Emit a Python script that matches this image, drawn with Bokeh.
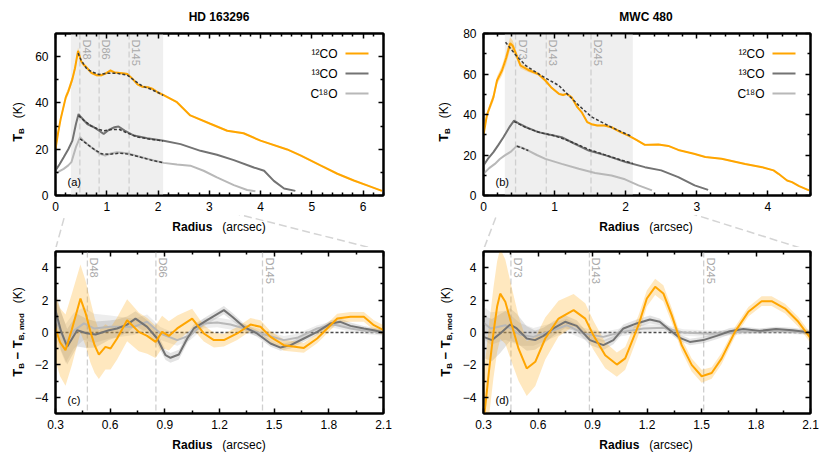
import math
from bokeh.plotting import figure
from bokeh.layouts import row, column
from bokeh.models import Range1d, LinearAxis, FixedTicker, BoxAnnotation, Span, Label, Arrow, Div
from bokeh.embed import file_html
from bokeh.resources import INLINE

# ---------------- data: HD 163296 radial profiles (panel a) ----------------
a_x12 = [0.0, 0.05, 0.1, 0.2, 0.25, 0.33, 0.38, 0.44, 0.5, 0.55, 0.6, 0.7, 0.8, 0.9, 1.0, 1.07, 1.15, 1.3, 1.4, 1.5,
         1.6, 1.7, 1.8, 1.9, 2.0, 2.1, 2.37, 2.63, 3.02, 3.35, 3.67, 4.0, 4.52, 4.78, 5.17, 5.5, 5.82, 6.08, 6.37]
a_y12 = [20.0, 27.0, 33.0, 42.4, 45.0, 50.4, 55.0, 62.5, 58.0, 56.5, 55.5, 53.0, 52.0, 52.0, 53.0, 54.0, 53.2, 52.8, 52.5, 50.5,
         48.0, 47.0, 46.8, 46.0, 44.5, 43.5, 40.3, 34.6, 31.0, 28.0, 26.9, 23.7, 19.9, 17.3, 13.0, 9.4, 6.5, 4.4, 2.0]
a_e12 = [1.5, 1.5, 1.5, 1.5, 1.5, 1.5, 1.5, 1.5, 1.0, 0.8, 0.7, 0.6, 0.6, 0.6, 0.6, 0.6, 0.5, 0.5, 0.5, 0.5,
         0.5, 0.5, 0.5, 0.5, 0.5, 0.5, 0.4, 0.4, 0.4, 0.4, 0.4, 0.4, 0.4, 0.4, 0.4, 0.4, 0.4, 0.4, 0.4]
a_x13 = [0.0, 0.08, 0.16, 0.25, 0.33, 0.4, 0.45, 0.5, 0.62, 0.75, 0.85, 0.94, 1.05, 1.15, 1.23, 1.35, 1.53, 1.79, 2.11, 2.44,
         2.83, 3.15, 3.48, 3.87, 4.07, 4.26, 4.46, 4.68]
a_y13 = [10.8, 13.5, 16.5, 20.0, 23.7, 31.0, 35.2, 33.8, 30.9, 29.5, 28.0, 26.6, 28.5, 29.5, 29.8, 28.0, 25.9, 24.7, 23.7, 22.2,
         19.3, 17.6, 15.3, 12.1, 10.7, 6.3, 3.0, 2.0]
a_x18 = [0.0, 0.08, 0.16, 0.25, 0.31, 0.4, 0.48, 0.55, 0.65, 0.75, 0.87, 0.97, 1.1, 1.2, 1.4, 1.66, 1.92, 2.11, 2.37, 2.63,
         2.89, 3.15, 3.48, 3.74, 3.9]
a_y18 = [9.4, 10.5, 11.5, 13.0, 14.4, 21.0, 25.2, 23.5, 21.6, 20.0, 18.0, 17.3, 18.3, 18.7, 18.3, 16.6, 15.1, 14.1, 13.4, 12.9,
         10.7, 7.8, 4.5, 2.4, 1.8]
a_mx12 = [0.44, 0.5, 0.6, 0.7, 0.85, 1.0, 1.2, 1.4, 1.55, 1.7, 1.85, 2.0, 2.1]
a_my12 = [61.5, 58.5, 55.0, 53.5, 52.3, 52.8, 52.8, 52.0, 49.5, 47.2, 46.0, 44.5, 43.3]
a_mx13 = [0.45, 0.55, 0.7, 0.85, 0.95, 1.1, 1.25, 1.4, 1.6, 1.8, 2.1]
a_my13 = [34.5, 32.5, 30.0, 28.5, 28.0, 28.5, 28.5, 27.0, 25.3, 24.5, 23.6]
a_mx18 = [0.48, 0.6, 0.75, 0.9, 1.05, 1.25, 1.45, 1.7, 1.9, 2.1]
a_my18 = [24.5, 22.5, 20.0, 18.0, 17.8, 18.3, 17.8, 16.3, 15.1, 14.2]

# ---------------- data: MWC 480 radial profiles (panel b) ----------------
b_x12 = [0.0, 0.05, 0.14, 0.19, 0.26, 0.32, 0.375, 0.41, 0.45, 0.52, 0.63, 0.77, 0.87, 0.95, 1.06, 1.12, 1.17, 1.24, 1.32, 1.38,
         1.46, 1.52, 1.6, 1.7, 1.8, 1.93, 2.04, 2.15, 2.27, 2.46, 2.6, 2.74, 2.96, 3.12, 3.35, 3.68, 3.92, 4.08, 4.15, 4.27,
         4.34, 4.44, 4.58]
b_y12 = [30.0, 40.0, 48.6, 56.8, 61.7, 68.0, 75.2, 74.0, 70.5, 64.2, 62.0, 60.0, 56.8, 53.5, 50.2, 49.6, 50.2, 48.5, 43.6, 41.2,
         36.2, 35.2, 34.6, 34.6, 33.7, 31.3, 29.6, 27.5, 25.0, 25.2, 24.5, 22.5, 20.6, 19.0, 18.1, 15.6, 14.0, 12.4, 10.7, 7.4,
         6.6, 4.6, 2.5]
b_e12 = [1.5, 1.5, 2.0, 2.0, 2.5, 3.0, 3.0, 2.5, 2.0, 1.5, 1.0, 0.8, 0.7, 0.6, 0.6, 0.6, 0.6, 0.6, 0.6, 0.5,
         0.5, 0.5, 0.5, 0.5, 0.5, 0.5, 0.5, 0.5, 0.5, 0.5, 0.4, 0.4, 0.4, 0.4, 0.4, 0.4, 0.4, 0.4, 0.4, 0.4,
         0.4, 0.4, 0.4]
b_x13 = [0.0, 0.07, 0.14, 0.21, 0.28, 0.36, 0.43, 0.5, 0.6, 0.77, 0.92, 1.1, 1.24, 1.48, 1.72, 2.0, 2.27, 2.5, 2.74, 2.97, 3.16]
b_y13 = [14.8, 18.5, 21.4, 25.0, 28.8, 33.5, 37.0, 35.5, 33.7, 31.3, 30.1, 28.8, 26.3, 22.2, 19.8, 16.5, 14.0, 12.4, 9.1, 5.0, 2.8]
b_x18 = [0.0, 0.08, 0.16, 0.23, 0.3, 0.38, 0.47, 0.55, 0.63, 0.75, 0.87, 1.1, 1.34, 1.57, 1.8, 1.99, 2.18, 2.37]
b_y18 = [10.7, 13.5, 15.6, 18.0, 19.8, 21.5, 24.5, 23.5, 22.2, 20.0, 18.1, 15.6, 13.2, 11.1, 9.9, 8.0, 5.0, 2.5]
b_mx12 = [0.31, 0.45, 0.6, 0.8, 1.06, 1.34, 1.52, 1.8, 2.09]
b_my12 = [75.7, 69.5, 64.0, 59.5, 54.3, 44.5, 38.8, 33.7, 29.1]
b_mx13 = [0.43, 0.6, 0.8, 1.0, 1.2, 1.5, 1.8, 2.1]
b_my13 = [36.5, 33.5, 31.0, 29.5, 27.0, 22.5, 19.0, 15.8]
b_mx18 = [0.47, 0.55, 0.63]
b_my18 = [24.3, 23.3, 22.2]

# ---------------- data: HD 163296 residuals (panel c) ----------------
c_x12 = [0.3, 0.325, 0.355, 0.39, 0.437, 0.465, 0.492, 0.515, 0.538, 0.574, 0.602, 0.638, 0.693, 0.757, 0.803, 0.849, 0.885,
         0.922, 0.968, 1.05, 1.114, 1.169, 1.224, 1.297, 1.37, 1.425, 1.48, 1.553, 1.663, 1.736, 1.846, 1.919, 1.992, 2.047, 2.1]
c_y12 = [0.25, -0.6, -1.09, 0.2, 2.1, 1.2, 0.04, -0.8, -1.37, -0.89, -0.99, -0.37, 0.76, 0.04, -0.21, -0.58, 0.04,
         -0.21, 0.25, 0.86, -0.06, -0.47, -0.47, -0.06, 0.49, 0.35, -0.27, -0.78, -0.95, -0.37, 0.86, 0.97, 0.97, 0.45, 0.14]
c_e12 = [2.0, 2.1, 2.2, 2.2, 2.1, 2.0, 1.9, 1.7, 1.5, 1.4, 1.3, 1.3, 1.3, 1.2, 1.1, 1.0, 1.0,
         0.9, 0.8, 0.6, 0.5, 0.45, 0.4, 0.4, 0.4, 0.4, 0.35, 0.35, 0.3, 0.3, 0.3, 0.3, 0.3, 0.3, 0.3]
c_x13 = [0.3, 0.33, 0.364, 0.419, 0.47, 0.52, 0.593, 0.638, 0.693, 0.739, 0.803, 0.858, 0.904, 0.931, 0.977, 1.023, 1.059,
         1.132, 1.224, 1.27, 1.333, 1.406, 1.48, 1.535, 1.59, 1.663, 1.736, 1.81, 1.864, 1.919, 1.992, 2.047, 2.1]
c_y13 = [1.38, 0.1, -0.88, 0.14, -0.05, -0.12, 0.14, 0.25, 0.49, 0.86, 0.35, -0.37, -1.4, -1.56, -1.36, -0.37, 0.25,
         0.76, 1.38, 0.97, 0.35, -0.06, -0.68, -0.93, -0.78, -0.37, 0.04, 0.56, 0.66, 0.41, 0.25, 0.14, 0.0]
c_e13 = [1.2, 1.2, 1.1, 1.0, 0.9, 0.8, 0.6, 0.55, 0.5, 0.45, 0.4, 0.35, 0.3, 0.3, 0.3, 0.3, 0.25,
         0.25, 0.25, 0.25, 0.2, 0.2, 0.2, 0.2, 0.2, 0.2, 0.2, 0.2, 0.2, 0.2, 0.15, 0.15, 0.15]
c_x18 = [0.3, 0.355, 0.4, 0.456, 0.511, 0.602, 0.73, 0.803, 0.876, 0.968, 1.04, 1.114, 1.187, 1.26, 1.37, 1.461, 1.553,
         1.626, 1.736, 1.827, 1.919, 2.0, 2.1]
c_y18 = [0.86, -0.68, 0.1, 0.56, 0.25, 0.35, 0.35, 0.66, -0.06, -0.47, -0.17, 0.56, 0.62, 0.49, 0.14, -0.17, -0.47,
         -0.33, 0.25, 0.49, 0.25, 0.1, 0.0]
c_e18 = [1.2, 1.2, 1.1, 1.0, 0.9, 0.7, 0.5, 0.45, 0.4, 0.35, 0.3, 0.3, 0.3, 0.3, 0.25, 0.25, 0.25,
         0.25, 0.2, 0.2, 0.2, 0.2, 0.2]

# ---------------- data: MWC 480 residuals (panel d) ----------------
d_x12 = [0.3, 0.315, 0.33, 0.355, 0.375, 0.392, 0.42, 0.456, 0.493, 0.538, 0.585, 0.64, 0.713, 0.796, 0.86, 0.905, 0.97,
         1.034, 1.08, 1.153, 1.199, 1.245, 1.29, 1.336, 1.391, 1.446, 1.501, 1.556, 1.611, 1.684, 1.758, 1.831, 1.886,
         1.96, 2.033, 2.1]
d_y12 = [-5.5, -4.0, -2.4, 0.0, 1.6, 2.4, 1.9, 0.45, -1.0, -2.22, -1.81, -0.37, 0.86, 1.38, 0.86, -0.17, -1.4,
         -1.98, -1.6, 0.45, 2.1, 2.82, 2.41, 1.07, -0.78, -2.0, -2.7, -2.5, -1.6, 0.04, 1.28, 1.93, 1.93,
         1.48, 0.66, -0.35]
d_e12 = [2.8, 2.8, 2.8, 2.8, 2.8, 2.8, 2.6, 2.3, 2.0, 1.7, 1.5, 1.3, 1.1, 1.0, 0.95, 0.9, 0.8,
         0.75, 0.7, 0.6, 0.5, 0.5, 0.5, 0.45, 0.4, 0.4, 0.4, 0.35, 0.35, 0.3, 0.3, 0.3, 0.3,
         0.3, 0.3, 0.3]
d_x13 = [0.3, 0.346, 0.392, 0.447, 0.483, 0.538, 0.584, 0.63, 0.685, 0.749, 0.813, 0.886, 0.96, 1.015, 1.07, 1.143, 1.216,
         1.27, 1.326, 1.381, 1.436, 1.51, 1.583, 1.656, 1.73, 1.82, 1.91, 2.0, 2.1]
d_y13 = [-0.27, -0.47, -0.06, 0.49, 0.25, -0.37, -0.47, -0.21, 0.25, 0.66, 0.41, -0.47, -0.78, -0.47, 0.25, 0.56, 0.8,
         0.66, 0.14, -0.33, -0.58, -0.47, -0.21, 0.08, 0.21, 0.1, 0.21, 0.14, 0.0]
d_e13 = [1.3, 1.3, 1.2, 1.0, 0.9, 0.75, 0.6, 0.5, 0.45, 0.4, 0.35, 0.3, 0.3, 0.25, 0.25, 0.25, 0.25,
         0.2, 0.2, 0.2, 0.2, 0.2, 0.2, 0.2, 0.15, 0.15, 0.15, 0.15, 0.15]
d_x18 = [0.3, 0.34, 0.42, 0.5, 0.575, 0.685, 0.758, 0.85, 0.96, 1.05, 1.18, 1.29, 1.4, 1.545, 1.73, 1.91, 2.1]
d_y18 = [0.6, 0.25, 0.45, -0.12, -0.27, 0.14, 0.45, -0.06, -0.27, 0.0, 0.25, 0.29, 0.0, -0.08, 0.04, 0.1, 0.0]
d_e18 = [1.0, 1.0, 0.9, 0.7, 0.55, 0.45, 0.4, 0.35, 0.3, 0.25, 0.25, 0.2, 0.2, 0.2, 0.15, 0.15, 0.15]

# ---------------- texts / ticks ----------------
titles = ["HD 163296", "MWC 480"]
series_names = ["\u00b9\u00b2CO", "\u00b9\u00b3CO", "C\u00b9\u2078O"]
a_gap_names = ["D48", "D86", "D145"]
a_gap_pos = [0.475, 0.851, 1.436]
b_gap_names = ["D73", "D143", "D245"]
b_gap_pos = [0.451, 0.883, 1.512]
zoom_window = [0.3, 2.1]
a_xticks = [0, 1, 2, 3, 4, 5, 6]
a_yticks = [0, 20, 40, 60]
b_xticks = [0, 1, 2, 3, 4]
b_yticks = [0, 20, 40, 60, 80]
r_xticks = [0.3, 0.6, 0.9, 1.2, 1.5, 1.8, 2.1]
r_yticks = [-4, -2, 0, 2, 4]
SUB = '<sub style="font-size:8px;vertical-align:-2px">'
xlabel_html = '<b>Radius</b>&nbsp;&nbsp;&nbsp;(arcsec)'
ylabel_top_html = '<b style="font-size:13px">T' + SUB + 'B</sub></b>&nbsp;&nbsp;&nbsp;(K)'
ylabel_res_html = ('<b style="font-size:13px">T' + SUB + 'B</sub> \u2212 T' + SUB + 'B, mod</sub></b>'
                   '&nbsp;&nbsp;&nbsp;(K)')

FONT = "Liberation Sans"
C12 = "#ffa500"
C13 = "#737373"
C18 = "#b8b8b8"
CMOD = "#3a3a3a"
SHADE = "#efefef"
DLINE = "#cfcfcf"
DTEXT = "#a9a9a9"
CONN = "#d4d4d4"

FH = 162           # frame height (px)
YLAB_W = 30        # width of the y-label strip left of each figure
BORDER_L = 25      # figure left border
TOP_BB = 20        # bottom border of the top figures
GAP_DIV_H = 32     # height of the strip between top and bottom figures
BOT_BT = 4         # top border of the bottom figures


def minor(ticks, n):
    out = []
    for i in range(len(ticks) - 1):
        step = (ticks[i + 1] - ticks[i]) / n
        for k in range(1, n):
            out.append(ticks[i] + k * step)
    return out


def make_panel(width, height, xr, yr, borders, xt, xmn, yt, ymn, overrides=None):
    bl, br, bt, bb = borders
    p = figure(width=width, height=height, x_range=Range1d(*xr), y_range=Range1d(*yr),
               output_backend="svg", toolbar_location=None,
               min_border_left=bl, min_border_right=br, min_border_top=bt, min_border_bottom=bb)
    p.xgrid.visible = False
    p.ygrid.visible = False
    p.outline_line_color = "black"
    p.outline_line_width = 2
    p.background_fill_color = "white"
    p.border_fill_color = "white"
    p.add_layout(LinearAxis(), "above")
    p.add_layout(LinearAxis(), "right")
    for ax in p.xaxis:
        ax.ticker = FixedTicker(ticks=xt, minor_ticks=xmn)
    for ax in p.yaxis:
        ax.ticker = FixedTicker(ticks=yt, minor_ticks=ymn)
    for ax in p.axis:
        ax.axis_line_color = "black"
        ax.axis_line_width = 2
        ax.major_tick_in = 5
        ax.major_tick_out = 0
        ax.minor_tick_in = 3
        ax.minor_tick_out = 0
        ax.major_tick_line_color = "black"
        ax.major_tick_line_width = 1.5
        ax.minor_tick_line_color = "black"
        ax.minor_tick_line_width = 1.5
        ax.major_label_text_font = FONT
        ax.major_label_text_font_size = "12px"
        ax.major_label_text_color = "black"
        ax.axis_label = None
    for ax in p.above + p.right:
        if isinstance(ax, LinearAxis):
            ax.major_label_text_font_size = "1px"
            ax.major_label_text_color = None
            ax.major_label_standoff = 0
    p.below[0].major_label_standoff = 6
    p.left[0].major_label_standoff = 7
    if overrides:
        p.left[0].major_label_overrides = overrides
    return p


def label(p, x, y, text, size="12px", style="normal", color="black", dx=0, dy=0,
          align="center", baseline="middle", angle=0.0):
    p.add_layout(Label(x=x, y=y, x_offset=dx, y_offset=dy, text=text, text_font=FONT,
                       text_font_size=size, text_font_style=style, text_color=color,
                       text_align=align, text_baseline=baseline, angle=angle))


def seg(p, x0, y0, x1, y1, color, width, dash="solid"):
    p.add_layout(Arrow(end=None, x_start=x0, y_start=y0, x_end=x1, y_end=y1,
                       start_units="screen", end_units="screen",
                       line_color=color, line_width=width, line_dash=dash))


def gaps(p, names, pos, y_top):
    for nm, xv in zip(names, pos):
        p.add_layout(Span(location=xv, dimension="height", line_color=DLINE, line_width=1.3,
                          line_dash="6 3", level="underlay"))
        label(p, xv, y_top, nm, size="11px", color=DTEXT, dx=1, dy=-6,
              align="left", baseline="bottom", angle=-math.pi / 2)


def legend(p, xr, yr, fw):
    for i, (nm, col) in enumerate(zip(series_names, [C12, C13, C18])):
        off = 20 * (i + 1)
        label(p, xr[1], yr[1], nm, size="12px", dx=-46, dy=-off, align="right")
        seg(p, fw - 38, FH - off, fw - 15, FH - off, col, 2)


def text_div(w, h, cx, cy, html, rotate=False, size=12, extra=""):
    tr = "translate(-50%,-50%)" + (" rotate(-90deg)" if rotate else "")
    body = ('<div style="position:relative;width:%dpx;height:%dpx;overflow:visible;">%s'
            '<div style="position:absolute;left:%spx;top:%spx;transform:%s;white-space:nowrap;'
            'font-family:\'Liberation Sans\',Arial,sans-serif;font-size:%dpx;line-height:1;color:#000;">'
            '%s</div></div>') % (w, h, extra, cx, cy, tr, size, html)
    return Div(text=body, width=w, height=h, margin=0)


def connectors_svg(w, h, fw, top_xr):
    # dashed guides from the zoom window on the upper axis to the corners of the lower frame
    x0 = YLAB_W + BORDER_L
    y_top = -TOP_BB
    y_bot = GAP_DIV_H + BOT_BT
    lines = []
    for xv, xc in ((zoom_window[0], 0), (zoom_window[1], fw)):
        xs = x0 + (xv - top_xr[0]) / (top_xr[1] - top_xr[0]) * fw
        lines.append('<line x1="%.1f" y1="%.1f" x2="%.1f" y2="%.1f" stroke="%s" stroke-width="1.5" '
                     'stroke-dasharray="8 4"/>' % (xs, y_top, x0 + xc, y_bot, CONN))
    return ('<svg width="%d" height="%d" style="position:absolute;left:0;top:0;overflow:hidden">%s</svg>'
            % (w, h, "".join(lines)))


def profile_panel(width, xr, yr, borders, fw, xt, yt, tag, gnames, gpos,
                  d12, d13, d18, m12, m13, m18, e12):
    p = make_panel(width, 189, xr, yr, borders, xt, minor(xt + [xt[-1] + 1], 5), yt,
                   minor(yt, 2))
    p.add_layout(BoxAnnotation(left=zoom_window[0], right=zoom_window[1], fill_color=SHADE,
                               fill_alpha=1, line_alpha=0, level="underlay"))
    gaps(p, gnames, gpos, yr[1])
    p.varea(x=d12[0], y1=[v - e for v, e in zip(d12[1], e12)], y2=[v + e for v, e in zip(d12[1], e12)],
            fill_color=C12, fill_alpha=0.3)
    p.line(d18[0], d18[1], line_color=C18, line_width=2)
    p.line(d13[0], d13[1], line_color=C13, line_width=2)
    p.line(d12[0], d12[1], line_color=C12, line_width=2)
    for m in (m12, m13, m18):
        p.line(m[0], m[1], line_color=CMOD, line_width=1.5, line_dash="3 2")
    label(p, xr[0], yr[0], tag, size="11px", dx=12, dy=8, align="left", baseline="bottom")
    legend(p, xr, yr, fw)
    return p


def resid_panel(width, borders, tag, gnames, gpos, r12, r13, r18):
    xr = (0.3, 2.1)
    yr = (-5, 5)
    p = make_panel(width, BOT_BT + FH + 20, xr, yr, borders, r_xticks, minor(r_xticks, 2), r_yticks,
                   minor(r_yticks, 2), overrides={-4: "\u22124", -2: "\u22122"})
    gaps(p, gnames, gpos, yr[1])
    p.add_layout(Span(location=0, dimension="width", line_color="#4a4a4a", line_width=1.5,
                      line_dash="3 2", level="underlay"))
    for (xs, ys, es), col, alpha in ((r18, C18, 0.25), (r13, C13, 0.2), (r12, C12, 0.25)):
        p.varea(x=xs, y1=[v - e for v, e in zip(ys, es)], y2=[v + e for v, e in zip(ys, es)],
                fill_color=col, fill_alpha=alpha)
    p.line(r18[0], r18[1], line_color=C18, line_width=2)
    p.line(r13[0], r13[1], line_color=C13, line_width=2)
    p.line(r12[0], r12[1], line_color=C12, line_width=2)
    label(p, xr[0], yr[0], tag, size="11px", dx=12, dy=8, align="left", baseline="bottom")
    return p


a_xr, a_yr = (0, 6.4), (0, 70)
b_xr, b_yr = (0, 4.6), (0, 80)

# left column (HD 163296): figures 398 px wide, frame 328 px
pa = profile_panel(398, a_xr, a_yr, (BORDER_L, 45, 7, TOP_BB), 328, a_xticks, a_yticks, "(a)",
                   a_gap_names, a_gap_pos, (a_x12, a_y12), (a_x13, a_y13), (a_x18, a_y18),
                   (a_mx12, a_my12), (a_mx13, a_my13), (a_mx18, a_my18), a_e12)
pc = resid_panel(398, (BORDER_L, 45, BOT_BT, 20), "(c)", a_gap_names, a_gap_pos,
                 (c_x12, c_y12, c_e12), (c_x13, c_y13, c_e13), (c_x18, c_y18, c_e18))
# right column (MWC 480): figures 364 px wide, frame 327 px
pb = profile_panel(364, b_xr, b_yr, (BORDER_L, 12, 7, TOP_BB), 327, b_xticks, b_yticks, "(b)",
                   b_gap_names, b_gap_pos, (b_x12, b_y12), (b_x13, b_y13), (b_x18, b_y18),
                   (b_mx12, b_my12), (b_mx13, b_my13), (b_mx18, b_my18), b_e12)
pd = resid_panel(364, (BORDER_L, 12, BOT_BT, 20), "(d)", b_gap_names, b_gap_pos,
                 (d_x12, d_y12, d_e12), (d_x13, d_y13, d_e13), (d_x18, d_y18, d_e18))

res_h = BOT_BT + FH + 20
left = column(
    text_div(428, 26, 219, 17, "<b>%s</b>" % titles[0]),
    row(text_div(YLAB_W, 189, 18, 96, ylabel_top_html, rotate=True), pa),
    text_div(428, GAP_DIV_H, 219, 12, xlabel_html, extra=connectors_svg(428, GAP_DIV_H, 328, a_xr)),
    row(text_div(YLAB_W, res_h, 18, BOT_BT + 81, ylabel_res_html, rotate=True), pc),
    text_div(428, 22, 219, 12, xlabel_html),
)
right = column(
    text_div(394, 26, 218, 17, "<b>%s</b>" % titles[1]),
    row(text_div(YLAB_W, 189, 16, 96, ylabel_top_html, rotate=True), pb),
    text_div(394, GAP_DIV_H, 218, 12, xlabel_html, extra=connectors_svg(394, GAP_DIV_H, 327, b_xr)),
    row(text_div(YLAB_W, res_h, 18, BOT_BT + 81, ylabel_res_html, rotate=True), pd),
    text_div(394, 22, 218, 12, xlabel_html),
)
layout = row(left, right)
open("out.html", "w").write(file_html(layout, INLINE))
